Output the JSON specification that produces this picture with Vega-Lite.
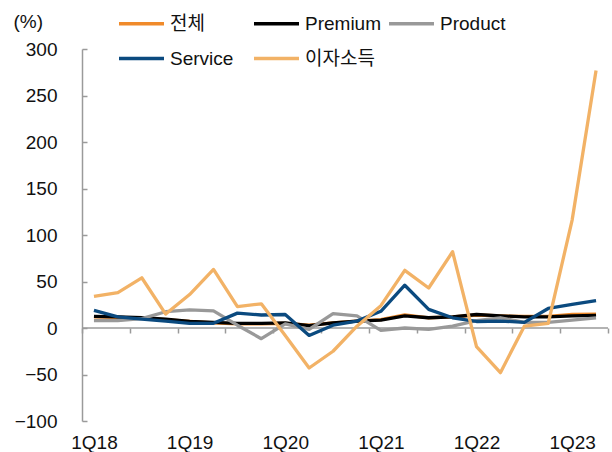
{
"$schema": "https://vega.github.io/schema/vega-lite/v6.json",
"width": 526,
"height": 372,
"autosize": {"type": "none"},
"padding": {"left": 82, "top": 49, "right": 4, "bottom": 31},
"config": {
  "view": {"stroke": null},
  "font": "Liberation Sans, Arial, Noto Sans CJK KR",
  "legend": {"padding": 0}
},
"data": {"values": [
{"q":"1Q18","i":0,"s":"전체","v":12},{"q":"2Q18","i":1,"s":"전체","v":11.5},{"q":"3Q18","i":2,"s":"전체","v":10.5},{"q":"4Q18","i":3,"s":"전체","v":9},
{"q":"1Q19","i":4,"s":"전체","v":7},{"q":"2Q19","i":5,"s":"전체","v":5.5},{"q":"3Q19","i":6,"s":"전체","v":4.5},{"q":"4Q19","i":7,"s":"전체","v":4.5},
{"q":"1Q20","i":8,"s":"전체","v":5},{"q":"2Q20","i":9,"s":"전체","v":3},{"q":"3Q20","i":10,"s":"전체","v":5.5},{"q":"4Q20","i":11,"s":"전체","v":7.5},
{"q":"1Q21","i":12,"s":"전체","v":9},{"q":"2Q21","i":13,"s":"전체","v":14},{"q":"3Q21","i":14,"s":"전체","v":11},{"q":"4Q21","i":15,"s":"전체","v":12},
{"q":"1Q22","i":16,"s":"전체","v":14},{"q":"2Q22","i":17,"s":"전체","v":13},{"q":"3Q22","i":18,"s":"전체","v":12.5},{"q":"4Q22","i":19,"s":"전체","v":12.5},
{"q":"1Q23","i":20,"s":"전체","v":14.5},{"q":"2Q23","i":21,"s":"전체","v":15},
{"q":"1Q18","i":0,"s":"Premium","v":12.5},{"q":"2Q18","i":1,"s":"Premium","v":12},{"q":"3Q18","i":2,"s":"Premium","v":11},{"q":"4Q18","i":3,"s":"Premium","v":9.5},
{"q":"1Q19","i":4,"s":"Premium","v":7},{"q":"2Q19","i":5,"s":"Premium","v":6},{"q":"3Q19","i":6,"s":"Premium","v":5},{"q":"4Q19","i":7,"s":"Premium","v":5},
{"q":"1Q20","i":8,"s":"Premium","v":5.5},{"q":"2Q20","i":9,"s":"Premium","v":2.5},{"q":"3Q20","i":10,"s":"Premium","v":5.5},{"q":"4Q20","i":11,"s":"Premium","v":7.5},
{"q":"1Q21","i":12,"s":"Premium","v":8.5},{"q":"2Q21","i":13,"s":"Premium","v":13},{"q":"3Q21","i":14,"s":"Premium","v":11},{"q":"4Q21","i":15,"s":"Premium","v":12},
{"q":"1Q22","i":16,"s":"Premium","v":14.5},{"q":"2Q22","i":17,"s":"Premium","v":13},{"q":"3Q22","i":18,"s":"Premium","v":12},{"q":"4Q22","i":19,"s":"Premium","v":12},
{"q":"1Q23","i":20,"s":"Premium","v":13},{"q":"2Q23","i":21,"s":"Premium","v":13.5},
{"q":"1Q18","i":0,"s":"Product","v":8},{"q":"2Q18","i":1,"s":"Product","v":8},{"q":"3Q18","i":2,"s":"Product","v":10},{"q":"4Q18","i":3,"s":"Product","v":17.5},
{"q":"1Q19","i":4,"s":"Product","v":19.5},{"q":"2Q19","i":5,"s":"Product","v":18.5},{"q":"3Q19","i":6,"s":"Product","v":3},{"q":"4Q19","i":7,"s":"Product","v":-11.5},
{"q":"1Q20","i":8,"s":"Product","v":4.5},{"q":"2Q20","i":9,"s":"Product","v":-1.5},{"q":"3Q20","i":10,"s":"Product","v":15.5},{"q":"4Q20","i":11,"s":"Product","v":13},
{"q":"1Q21","i":12,"s":"Product","v":-2.5},{"q":"2Q21","i":13,"s":"Product","v":0},{"q":"3Q21","i":14,"s":"Product","v":-1.5},{"q":"4Q21","i":15,"s":"Product","v":2},
{"q":"1Q22","i":16,"s":"Product","v":8},{"q":"2Q22","i":17,"s":"Product","v":11},{"q":"3Q22","i":18,"s":"Product","v":6},{"q":"4Q22","i":19,"s":"Product","v":6},
{"q":"1Q23","i":20,"s":"Product","v":8.5},{"q":"2Q23","i":21,"s":"Product","v":11},
{"q":"1Q18","i":0,"s":"Service","v":19},{"q":"2Q18","i":1,"s":"Service","v":12},{"q":"3Q18","i":2,"s":"Service","v":9.5},{"q":"4Q18","i":3,"s":"Service","v":7.5},
{"q":"1Q19","i":4,"s":"Service","v":5},{"q":"2Q19","i":5,"s":"Service","v":5},{"q":"3Q19","i":6,"s":"Service","v":16},{"q":"4Q19","i":7,"s":"Service","v":14},
{"q":"1Q20","i":8,"s":"Service","v":14.5},{"q":"2Q20","i":9,"s":"Service","v":-8},{"q":"3Q20","i":10,"s":"Service","v":3},{"q":"4Q20","i":11,"s":"Service","v":7.5},
{"q":"1Q21","i":12,"s":"Service","v":18},{"q":"2Q21","i":13,"s":"Service","v":46},{"q":"3Q21","i":14,"s":"Service","v":20},{"q":"4Q21","i":15,"s":"Service","v":11},
{"q":"1Q22","i":16,"s":"Service","v":7},{"q":"2Q22","i":17,"s":"Service","v":7.5},{"q":"3Q22","i":18,"s":"Service","v":6},{"q":"4Q22","i":19,"s":"Service","v":21},
{"q":"1Q23","i":20,"s":"Service","v":25.5},{"q":"2Q23","i":21,"s":"Service","v":29.5},
{"q":"1Q18","i":0,"s":"이자소득","v":34},{"q":"2Q18","i":1,"s":"이자소득","v":38},{"q":"3Q18","i":2,"s":"이자소득","v":54},{"q":"4Q18","i":3,"s":"이자소득","v":15},
{"q":"1Q19","i":4,"s":"이자소득","v":36},{"q":"2Q19","i":5,"s":"이자소득","v":63},{"q":"3Q19","i":6,"s":"이자소득","v":23},{"q":"4Q19","i":7,"s":"이자소득","v":26},
{"q":"1Q20","i":8,"s":"이자소득","v":-8},{"q":"2Q20","i":9,"s":"이자소득","v":-43},{"q":"3Q20","i":10,"s":"이자소득","v":-25},{"q":"4Q20","i":11,"s":"이자소득","v":2},
{"q":"1Q21","i":12,"s":"이자소득","v":24},{"q":"2Q21","i":13,"s":"이자소득","v":62},{"q":"3Q21","i":14,"s":"이자소득","v":43},{"q":"4Q21","i":15,"s":"이자소득","v":82},
{"q":"1Q22","i":16,"s":"이자소득","v":-20},{"q":"2Q22","i":17,"s":"이자소득","v":-48},{"q":"3Q22","i":18,"s":"이자소득","v":2},{"q":"4Q22","i":19,"s":"이자소득","v":5},
{"q":"1Q23","i":20,"s":"이자소득","v":116},{"q":"2Q23","i":21,"s":"이자소득","v":277}
]},
"layer": [
  {
    "data": {"values": [{"zero": 0}]},
    "mark": {"type": "rule", "color": "#9a9a9a", "strokeWidth": 1.5},
    "encoding": {
      "x": {"datum": -0.5, "type": "quantitative",
        "scale": {"domain": [-0.5, 21.5], "nice": false, "zero": false},
        "axis": {"orient": "bottom", "offset": -93, "values": [-0.5,1.5,3.5,5.5,7.5,9.5,11.5,13.5,15.5,17.5,19.5,21.5],
          "labels": false, "domain": false, "ticks": true, "tickSize": 5, "tickColor": "#9a9a9a", "tickWidth": 1.5, "grid": false, "title": null}},
      "x2": {"datum": 21.5},
      "y": {"field": "zero", "type": "quantitative"}
    }
  },
  {
    "mark": {"type": "line", "strokeJoin": "round"},
    "encoding": {
      "x": {"field": "i", "type": "quantitative",
        "scale": {"domain": [-0.5, 21.5], "nice": false, "zero": false},
        "axis": {"orient": "bottom", "values": [0,4,8,12,16,20],
          "labelExpr": "'1Q' + (18 + datum.value / 4)",
          "domain": false, "ticks": false, "grid": false, "title": null,
          "labelFontSize": 19, "labelPadding": 12, "labelColor": "#111"}},
      "y": {"field": "v", "type": "quantitative",
        "scale": {"domain": [-100, 300], "nice": false, "zero": false},
        "axis": {"values": [-100,-50,0,50,100,150,200,250,300], "grid": false,
          "title": "(%)", "titleAngle": 0, "titleAlign": "left", "titleBaseline": "middle",
          "titleX": -69, "titleY": -28, "titleFontSize": 19, "titleFontWeight": "normal", "titleColor": "#111",
          "labelFontSize": 19, "labelColor": "#111", "labelPadding": 30,
          "tickSize": -5, "tickColor": "#9a9a9a", "tickWidth": 1.5,
          "domainColor": "#9a9a9a", "domainWidth": 1.5}},
      "color": {"field": "s", "type": "nominal",
        "scale": {"domain": ["전체","Premium","Product","Service","이자소득"],
                  "range": ["#F08A2A","#000000","#999999","#0B4A7F","#F2B266"]},
        "legend": {"title": null, "orient": "none", "legendX": 35, "legendY": -50,
          "direction": "horizontal", "columns": 3, "gridAlign": "all", "columnPadding": 0, "rowPadding": -16,
          "symbolType": "stroke", "symbolSize": 2025, "symbolStrokeWidth": 3.5,
          "labelFontSize": 19, "labelColor": "#111", "labelOffset": 4}},
      "strokeWidth": {"field": "s", "type": "nominal",
        "scale": {"domain": ["전체","Premium","Product","Service","이자소득"], "range": [3.3, 3.3, 3.3, 3.3, 4.2]},
        "legend": null}
    }
  }
],
"resolve": {"axis": {"x": "independent"}}
}
